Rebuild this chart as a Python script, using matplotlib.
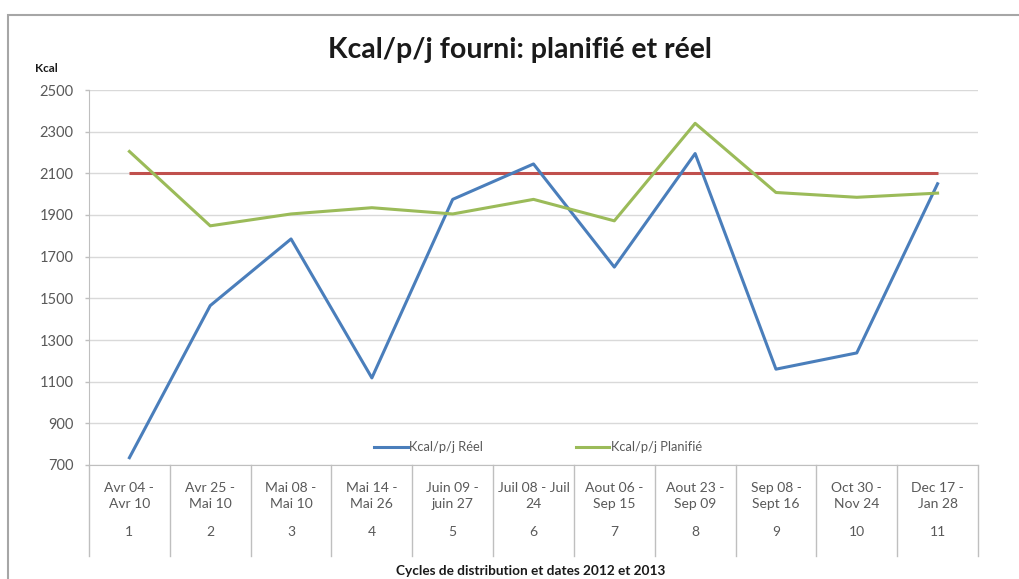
import matplotlib
matplotlib.use("Agg")
import matplotlib.pyplot as plt
from matplotlib.patches import Rectangle
from matplotlib.lines import Line2D

plt.rcParams['font.family'] = ['Lato', 'DejaVu Sans']

cycles = ["1", "2", "3", "4", "5", "6", "7", "8", "9", "10", "11"]
dates = ["Avr 04 -\nAvr 10", "Avr 25 -\nMai 10", "Mai 08 -\nMai 10", "Mai 14 -\nMai 26",
         "Juin 09 -\njuin 27", "Juil 08 - Juil\n24", "Aout 06 -\nSep 15", "Aout 23 -\nSep 09",
         "Sep 08 -\nSept 16", "Oct 30 -\nNov 24", "Dec 17 -\nJan 28"]
reel = [735, 1465, 1785, 1118, 1975, 2145, 1650, 2195, 1160, 1238, 2050]
planifie = [2205, 1848, 1905, 1935, 1905, 1975, 1872, 2340, 2008, 1985, 2005]
norme = [2100] * 11

W, H = 1019, 579
fig = plt.figure(figsize=(W / 100, H / 100), dpi=100)

# outer chart frame (cropped)
fig.patches.append(Rectangle((8 / W, -0.1), 1.2, (H - 15) / H + 0.1, transform=fig.transFigure,
                             fill=False, edgecolor="#a6a6a6", linewidth=1.5))

ax = fig.add_axes([89 / W, (H - 465) / H, (978 - 89) / W, (465 - 90) / H])
x = list(range(1, len(cycles) + 1))

ax.plot(x, norme, color="#C0504D", lw=2.2, solid_capstyle="butt")
l1, = ax.plot(x, reel, color="#4A7EBB", lw=2.2, label="Kcal/p/j Réel")
l2, = ax.plot(x, planifie, color="#9BBB59", lw=2.2, label="Kcal/p/j Planifié")

ax.set_xlim(0.5, len(cycles) + 0.5)
ax.set_ylim(700, 2500)
ax.set_yticks(range(700, 2501, 200))
ax.yaxis.grid(True, color="#d9d9d9", lw=1)
ax.set_axisbelow(True)
for s in ["top", "right"]:
    ax.spines[s].set_visible(False)
ax.spines["left"].set_color("#bfbfbf")
ax.spines["bottom"].set_color("#bfbfbf")
ax.tick_params(axis="y", colors="#bfbfbf", labelcolor="#595959", labelsize=10.5, length=3,
               width=1, pad=8)
ax.set_xticks([])

trans = ax.get_xaxis_transform()
for i, (d, c) in enumerate(zip(dates, cycles)):
    ax.text(x[i], -0.045, d, transform=trans, ha="center", va="top", fontsize=10,
            color="#595959", linespacing=1.45)
    ax.text(x[i], -0.18, c, transform=trans, ha="center", va="center", fontsize=10,
            color="#595959")
for b in range(len(cycles) + 1):
    ax.add_line(Line2D([b + 0.5, b + 0.5], [0, -0.243], transform=trans, color="#bfbfbf",
                       lw=1, clip_on=False))

leg = ax.legend(handles=[l1, l2], loc="lower center", bbox_to_anchor=(0.505, 0.0), ncol=2,
                frameon=False, fontsize=9.3, handlelength=2.6, handletextpad=0.1,
                columnspacing=7.2)
for t in leg.get_texts():
    t.set_color("#595959")

fig.text(520 / W, 1 - 50 / H, "Kcal/p/j fourni: planifié et réel", ha="center", va="center",
         fontsize=20.5, fontweight="bold", color="#1a1a1a")
fig.text(46 / W, 1 - 68 / H, "Kcal", ha="center", va="center", fontsize=8.5,
         fontweight="bold", color="#1a1a1a")
fig.text(531 / W, 1 - 571 / H, "Cycles de distribution et dates 2012 et 2013", ha="center",
         va="center", fontsize=9.8, fontweight="bold", color="#1a1a1a")

fig.savefig("out.png", dpi=100, facecolor="white")
